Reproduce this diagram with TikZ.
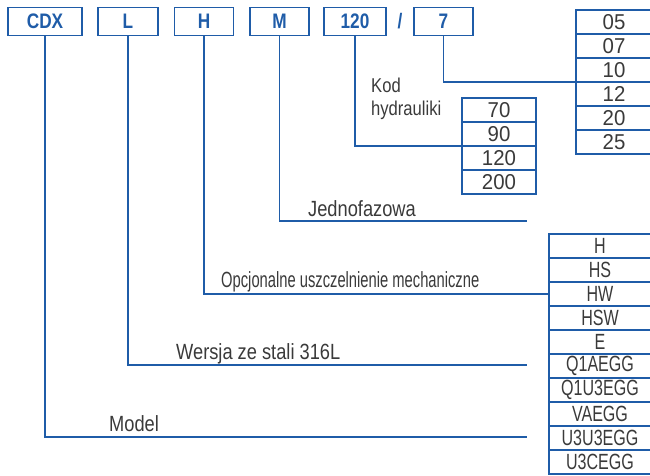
\documentclass[tikz,border=0pt]{standalone}
\usepackage{fontspec}
\usepackage{xcolor}
\usepackage{tikz}
\usetikzlibrary{positioning}

\newfontfamily\numfont[FakeStretch=0.95]{Liberation Sans}
\newfontfamily\tabfont[FakeStretch=0.73]{Liberation Sans}
\newfontfamily\lblfont[FakeStretch=0.83]{Liberation Sans}
\newfontfamily\narrowlblfont[FakeStretch=0.67]{Liberation Sans}
\newfontfamily\keyfont[FakeStretch=0.82]{Liberation Sans}

\definecolor{codeblue}{HTML}{1F5CA8}
\definecolor{textgrey}{HTML}{3A3A3A}

\tikzset{
  keybox/.style={draw=codeblue, line width=1.4pt, outer sep=0pt, inner sep=0pt,
    minimum height=28, text=codeblue, font=\keyfont\bfseries\fontsize{21}{21}\selectfont},
  cell/.style={draw=codeblue, line width=1.4pt, outer sep=0pt, inner sep=0pt,
    minimum height=24, text=textgrey, font=\tabfont\fontsize{22}{22}\selectfont},
  numcell/.style={cell, font=\numfont\fontsize{21.5}{21.5}\selectfont},
  lbl/.style={anchor=base west, inner sep=0pt, text=textgrey,
    font=\lblfont\fontsize{22}{23}\selectfont},
  link/.style={draw=codeblue, line width=1.4pt}
}

\begin{document}
\begin{tikzpicture}[x=1pt, y=-1pt]
  \useasboundingbox (0,0) rectangle (650,476);

  % code boxes
  \node[keybox, minimum width=74] (cdx) at (45,21.5) {CDX};
  \node[keybox, minimum width=60] (l) at (128,21.5) {L};
  \node[keybox, minimum width=59] (h) at (204,21.5) {H};
  \node[keybox, minimum width=59] (m) at (279.5,21.5) {M};
  \node[keybox, minimum width=62] (hyd) at (355,21.5) {120};
  \node[text=codeblue, font=\keyfont\bfseries\fontsize{21}{21}\selectfont] (slash) at (400,21.5) {/};
  \node[keybox, minimum width=59] (pw) at (443.5,21.5) {7};

  % tables
  \foreach \t [count=\i] in {05,07,10,12,20,25}
    \node[numcell, minimum width=76] (p\i) at (614,22+24*\i-24) {\t};
  \foreach \t [count=\i] in {70,90,120,200}
    \node[numcell, minimum width=74] (k\i) at (499,110+24*\i-24) {\t};
  \foreach \t [count=\i] in {H,HS,HW,HSW,E,Q1AEGG,Q1U3EGG,VAEGG,U3U3EGG,U3CEGG}
    \node[cell, minimum width=102] (s\i) at (600,246+24*\i-24) {\t};

  % labels
  \node[lbl, align=left, font=\lblfont\fontsize{20}{23}\selectfont] (kodlbl) at (371,116)
    {Kod\\hydrauliki};
  \node[lbl] (jlbl) at (308,216) {Jednofazowa};
  \node[lbl, font=\narrowlblfont\fontsize{22}{23}\selectfont] (olbl) at (221,287)
    {Opcjonalne uszczelnienie mechaniczne};
  \node[lbl] (wlbl) at (176,359) {Wersja ze stali 316L};
  \node[lbl] (mlbl) at (109,431) {Model};

  \coordinate (jend) at (527,221);
  \coordinate (wend) at (527,365);
  \coordinate (mend) at (527,437);

  % connectors
  \draw[link] (pw.south) |- (p3.south west);
  \draw[link] (hyd.south) |- (k2.south west);
  \draw[link] (m.south) |- (jend);
  \draw[link] (h.south) |- (s3.west);
  \draw[link] (l.south) |- (wend);
  \draw[link] (cdx.south) |- (mend);
\end{tikzpicture}
\end{document}
